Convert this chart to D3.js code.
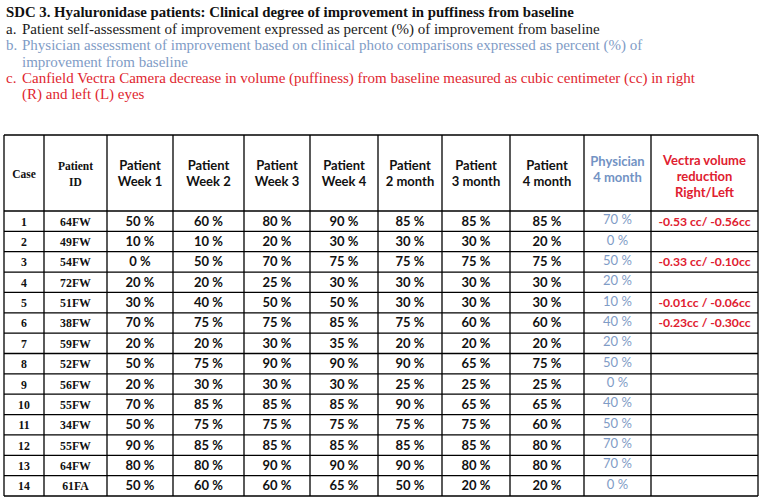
<!DOCTYPE html>
<html>
<head>
<meta charset="utf-8">
<script src="https://cdn.jsdelivr.net/npm/d3@7"></script>
<style>
  body { margin: 0; background: #fff; }
  svg { display: block; }
</style>
</head>
<body>
<div id="container"></div>
<script>
// table data, one array per column
let cases = [1, 2, 3, 4, 5, 6, 7, 8, 9, 10, 11, 12, 13, 14];
let patientIds = ["64FW", "49FW", "54FW", "72FW", "51FW", "38FW", "59FW", "52FW", "56FW", "55FW", "34FW", "55FW", "64FW", "61FA"];
let week1 = [50, 10, 0, 20, 30, 70, 20, 50, 20, 70, 50, 90, 80, 50];
let week2 = [60, 10, 50, 20, 40, 75, 20, 75, 30, 85, 75, 85, 80, 60];
let week3 = [80, 20, 70, 25, 50, 75, 30, 90, 30, 85, 75, 85, 90, 60];
let week4 = [90, 30, 75, 30, 50, 85, 35, 90, 30, 85, 75, 85, 90, 65];
let month2 = [85, 30, 75, 30, 30, 75, 20, 90, 25, 90, 75, 85, 90, 50];
let month3 = [85, 30, 75, 30, 30, 60, 20, 65, 25, 65, 75, 85, 80, 20];
let month4 = [85, 20, 75, 30, 30, 60, 20, 75, 25, 65, 60, 80, 80, 20];
let physician4 = [70, 0, 50, 20, 10, 40, 20, 50, 0, 40, 50, 70, 70, 0];
let vectra = ["-0.53 cc/ -0.56cc", "", "-0.33 cc/ -0.10cc", "", "-0.01cc / -0.06cc", "-0.23cc / -0.30cc", "", "", "", "", "", "", "", ""];

let headers = [
  ["Case"], ["Patient", "ID"],
  ["Patient", "Week 1"], ["Patient", "Week 2"], ["Patient", "Week 3"], ["Patient", "Week 4"],
  ["Patient", "2 month"], ["Patient", "3 month"], ["Patient", "4 month"],
  ["Physician", "4 month"], ["Vectra volume", "reduction", "Right/Left"]
];

let notes = [
  { mark: "a.", lines: ["Patient self-assessment of improvement expressed as percent (%) of improvement from baseline"], color: "#1a1a1a" },
  { mark: "b.", lines: ["Physician assessment of improvement based on clinical photo comparisons expressed as percent (%) of", "improvement from baseline"], color: "#7f9cc6" },
  { mark: "c.", lines: ["Canfield Vectra Camera decrease in volume (puffiness) from baseline measured as cubic centimeter (cc) in right", "(R) and left (L) eyes"], color: "#e0262f" }
];

// layout
var width = 764, height = 502;
var colEdges = [4, 44, 107, 173, 244, 310, 378, 442, 510, 584, 651, 758];
var headTop = 135, headBottom = 211, tableBottom = 496;
var serif = "'Liberation Serif', 'Times New Roman', serif";
var sans = "Lato, 'Open Sans', sans-serif";
var blue = "#7393c4", red = "#e0202f", cellBlue = "#7f9cc6";

var svg = d3.select("#container").append("svg")
  .attr("width", width)
  .attr("height", height);

// title + notes
svg.append("text")
  .attr("x", 6).attr("y", 17)
  .attr("font-family", serif).attr("font-weight", "bold").attr("font-size", 14.8)
  .attr("fill", "#111")
  .text("SDC 3.  Hyaluronidase patients: Clinical degree of improvement in puffiness from baseline");

var lineY = 34;
notes.forEach(function (n) {
  svg.append("text")
    .attr("x", 6).attr("y", lineY)
    .attr("font-family", serif).attr("font-size", 15).attr("fill", n.color)
    .text(n.mark);
  n.lines.forEach(function (l) {
    svg.append("text")
      .attr("x", 22).attr("y", lineY)
      .attr("font-family", serif).attr("font-size", 15).attr("fill", n.color)
      .text(l);
    lineY += 16.3;
  });
});

// rows
var rows = cases.map(function (c, i) {
  return [
    c, patientIds[i],
    week1[i] + " %", week2[i] + " %", week3[i] + " %", week4[i] + " %",
    month2[i] + " %", month3[i] + " %", month4[i] + " %",
    physician4[i] + " %", vectra[i]
  ];
});

var y = d3.scaleBand().domain(d3.range(rows.length)).range([headBottom, tableBottom]);
var colMid = function (j) { return (colEdges[j] + colEdges[j + 1]) / 2; };

// grid
var grid = svg.append("g").attr("stroke", "#000").attr("stroke-width", 1.3);
[headTop, headBottom].concat(y.domain().map(function (i) { return y(i) + y.bandwidth(); }))
  .forEach(function (yy) {
    grid.append("line").attr("x1", colEdges[0]).attr("x2", colEdges[colEdges.length - 1])
      .attr("y1", yy).attr("y2", yy);
  });
colEdges.forEach(function (xx) {
  grid.append("line").attr("x1", xx).attr("x2", xx).attr("y1", headTop).attr("y2", tableBottom);
});

// header cells
headers.forEach(function (h, j) {
  var isSerif = j < 2;
  var color = j === 9 ? blue : (j === 10 ? red : "#111");
  var mid = (headTop + headBottom) / 2;
  var lh = 16;
  var shift = j === 9 ? -4 : (j === 10 ? 3 : 0);
  var t = svg.append("text")
    .attr("text-anchor", "middle")
    .attr("font-family", isSerif ? serif : sans)
    .attr("font-weight", "bold")
    .attr("font-size", isSerif ? 11.5 : 13)
    .attr("fill", color);
  h.forEach(function (line, k) {
    t.append("tspan")
      .attr("x", colMid(j))
      .attr("y", mid + shift + (k - (h.length - 1) / 2) * lh + 4.5)
      .text(line);
  });
});

// body cells
rows.forEach(function (r, i) {
  r.forEach(function (v, j) {
    var isSerif = j < 2;
    var color = j === 9 ? cellBlue : (j === 10 ? red : "#111");
    svg.append("text")
      .attr("x", colMid(j))
      .attr("y", y(i) + y.bandwidth() / 2 + (j === 9 ? 3 : 4.5))
      .attr("text-anchor", "middle")
      .attr("font-family", isSerif ? serif : sans)
      .attr("font-weight", j === 9 ? "normal" : "bold")
      .attr("font-size", isSerif ? 11.8 : (j === 10 ? 12.2 : 13))
      .attr("fill", color)
      .text(v);
  });
});
</script>
</body>
</html>
